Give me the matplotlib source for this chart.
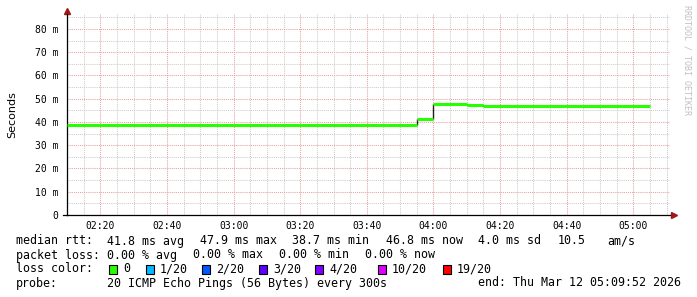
import matplotlib.pyplot as plt
from matplotlib.patches import Rectangle

# median rtt steps, time in minutes after midnight, values in ms
step_edges = [130, 235, 240, 250, 255, 305]
median_ms = [38.7, 41.4, 47.9, 47.4, 46.8]

x_ticks = [140, 160, 180, 200, 220, 240, 260, 280, 300]
x_labels = ["02:20", "02:40", "03:00", "03:20", "03:40", "04:00", "04:20", "04:40", "05:00"]
y_ticks = [0, 10, 20, 30, 40, 50, 60, 70, 80]
y_labels = ["0", "10 m", "20 m", "30 m", "40 m", "50 m", "60 m", "70 m", "80 m"]

loss_labels = ["0", "1/20", "2/20", "3/20", "4/20", "10/20", "19/20"]
loss_colors = ["#26ff00", "#00b8ff", "#0059ff", "#5e00ff", "#7e00ff", "#dd00ff", "#ff0000"]

W, H = 697, 297
mono = "DejaVu Sans Mono"


def fx(x):
    return x / W


def fy(y):
    return 1 - y / H


fig = plt.figure(figsize=(W / 100, H / 100), dpi=100)
ax = fig.add_axes([fx(67), fy(215), fx(670) - fx(67), fy(14) - fy(215)])
ax.set_xlim(130, 311)
ax.set_ylim(0, 86.45)

# grid
ax.set_xticks(x_ticks)
ax.set_xticklabels(x_labels, fontfamily=mono, fontsize=7)
ax.set_xticks(range(130, 311, 5), minor=True)
ax.set_yticks(y_ticks)
ax.set_yticklabels(y_labels, fontfamily=mono, fontsize=7)
ax.set_yticks(range(5, 86, 10), minor=True)
ax.grid(which="minor", color="#cccccc", linestyle=(0, (1, 1)), linewidth=0.75)
ax.grid(which="major", color="#eaa0a0", linestyle=(0, (1, 1)), linewidth=0.75)
ax.tick_params(which="both", length=0)
ax.tick_params(axis="x", pad=4)
ax.tick_params(axis="y", pad=6)
ax.set_axisbelow(True)

for s in ["top", "right"]:
    ax.spines[s].set_visible(False)
for s in ["left", "bottom"]:
    ax.spines[s].set_color("black")
    ax.spines[s].set_linewidth(0.9)
ax.plot([-4 / 603, 0], [0, 0], color="black", linewidth=0.9, transform=ax.transAxes, clip_on=False)

ax.set_ylabel("Seconds", fontsize=8)
ax.yaxis.set_label_coords(-(67 - 17) / (670 - 67), 0.5)

# median line
ax.vlines(step_edges[1:-1], median_ms[:-1], median_ms[1:], color="#202020", linewidth=1, zorder=3)
ax.hlines(median_ms, step_edges[:-1], step_edges[1:], color=loss_colors[0], linewidth=2.2, zorder=4)

# axis arrows
ax.plot([0], [1.015], marker="^", markersize=4.5, color="#a01818", transform=ax.transAxes, clip_on=False)
ax.plot([1.006], [0], marker=">", markersize=4.5, color="#a01818", transform=ax.transAxes, clip_on=False)

# watermark
fig.text(fx(687), fy(5), "RRDTOOL / TOBI OETIKER", rotation=270, fontfamily=mono, fontsize=6,
         color="#c0c0c0", ha="center", va="top")

# legend text
fs = 8.4
rows = [
    (241, [(16, "median rtt:"), (107, "41.8 ms avg"), (200, "47.9 ms max"), (292, "38.7 ms min"),
           (386, "46.8 ms now"), (478, "4.0 ms sd"), (558, "10.5"), (607, "am/s")]),
    (255, [(16, "packet loss:"), (107, "0.00 % avg"), (193, "0.00 % max"), (279, "0.00 % min"),
           (365, "0.00 % now")]),
    (283, [(16, "probe:"), (107, "20 ICMP Echo Pings (56 Bytes) every 300s"),
           (478, "end: Thu Mar 12 05:09:52 2026")]),
]
for y, parts in rows:
    for x, t in parts:
        fig.text(fx(x), fy(y), t, fontfamily=mono, fontsize=fs, ha="left", va="center")

fig.text(fx(16), fy(269), "loss color:", fontfamily=mono, fontsize=fs, ha="left", va="center")
box_x = [109, 146, 202, 259, 315, 378, 443]
for bx, lab, col in zip(box_x, loss_labels, loss_colors):
    fig.patches.append(Rectangle((fx(bx), fy(273.5)), fx(8), 9 / H, transform=fig.transFigure,
                                 facecolor=col, edgecolor="black", linewidth=0.8))
    fig.text(fx(bx + 14), fy(269), lab, fontfamily=mono, fontsize=fs, ha="left", va="center")

fig.savefig("out.png", dpi=100, facecolor="white")
